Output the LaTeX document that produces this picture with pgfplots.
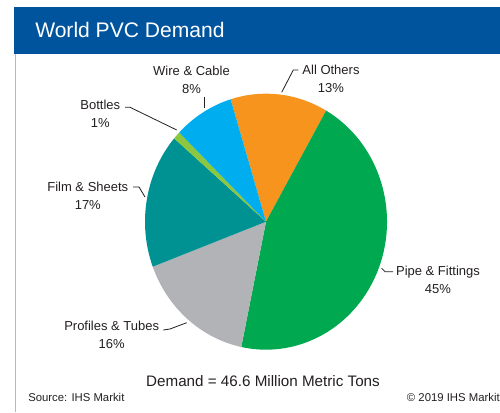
\documentclass[border=0pt]{standalone}
\usepackage{fontspec}
\setmainfont{Liberation Sans}
\usepackage{pgfplots}
\usepackage{pgfplotstable}
\pgfplotsset{compat=1.18}

\definecolor{hdrblue}{RGB}{0,84,158}
\definecolor{slice0}{RGB}{247,148,30}  % All Others
\definecolor{slice1}{RGB}{0,169,79}    % Pipe & Fittings
\definecolor{slice2}{RGB}{177,179,182} % Profiles & Tubes
\definecolor{slice3}{RGB}{0,146,147}   % Film & Sheets
\definecolor{slice4}{RGB}{141,198,63}  % Bottles
\definecolor{slice5}{RGB}{0,174,239}   % Wire & Cable
\definecolor{txt}{RGB}{35,31,32}

\pgfplotstableread{
pct
13
45
16
17
1
8
}\piedata

% slice angles, clockwise from 107 deg
\xdef\pieang{107}
\pgfplotstableforeachcolumnelement{pct}\of\piedata\as\p{%
  \pgfmathsetmacro\pieend{\pieang-3.6*\p}%
  \expandafter\xdef\csname pieS\pgfplotstablerow\endcsname{\pieang}%
  \expandafter\xdef\csname pieE\pgfplotstablerow\endcsname{\pieend}%
  \xdef\pieang{\pieend}%
}

\newcommand\lbl{\fontsize{9.75}{13.5}\selectfont}

\begin{document}
\begin{tikzpicture}
\begin{axis}[x=0.75pt,y=0.75pt,xmin=0,xmax=500,ymin=0,ymax=412,
  hide axis,clip=false]
  \path (axis cs:0,0) rectangle (axis cs:500,412);
  \fill[hdrblue] (axis cs:14,358) rectangle (axis cs:500,404.7);
  \draw[black!28,line width=1.1pt] (axis cs:15.5,358) -- (axis cs:15.5,0);
  \node[anchor=base west,text=white,inner sep=0,
    font=\fontsize{15.8}{18}\selectfont] at (axis cs:35,374.7) {World PVC Demand};

  \pgfplotsinvokeforeach{0,...,5}{%
    \edef\temp{\noexpand\fill[slice#1] (axis cs:266,190.3)
      -- +(\csname pieS#1\endcsname:90.75pt and 96pt)
      arc[start angle=\csname pieS#1\endcsname,end angle=\csname pieE#1\endcsname,
          x radius=90.75pt,y radius=96pt] -- cycle;}%
    \temp
  }

  % leader lines
  \draw[txt,line width=0.6pt] (axis cs:204.3,315.3) -- (axis cs:204.3,303.7);
  \draw[txt,line width=0.6pt] (axis cs:281.7,319.7) -- (axis cs:293.3,342) -- (axis cs:298.3,342);
  \draw[txt,line width=0.6pt] (axis cs:125,304.7) -- (axis cs:130,304.7) -- (axis cs:176.7,282);
  \draw[txt,line width=0.6pt] (axis cs:133,225) -- (axis cs:139,225) -- (axis cs:145,215);
  \draw[txt,line width=0.6pt] (axis cs:163.3,82) -- (axis cs:170,83) -- (axis cs:186.7,89.3);
  \draw[txt,line width=0.6pt] (axis cs:381.7,143.7) -- (axis cs:385,140.3) -- (axis cs:393,140.3);

  % labels
  \node[align=center,font=\lbl,text=txt] at (axis cs:191.5,332.1) {Wire \& Cable\\8\%};
  \node[align=center,font=\lbl,text=txt] at (axis cs:331,333) {All Others\\13\%};
  \node[align=center,font=\lbl,text=txt] at (axis cs:100.3,298) {Bottles\\1\%};
  \node[align=center,font=\lbl,text=txt] at (axis cs:87.8,216) {Film \& Sheets\\17\%};
  \node[align=center,font=\lbl,text=txt] at (axis cs:111.7,77) {Profiles \& Tubes\\16\%};
  \node[align=center,font=\lbl,text=txt] at (axis cs:438,132.6) {Pipe \& Fittings\\45\%};

  \node[font=\fontsize{11.4}{13}\selectfont,text=txt] at (axis cs:263,31.3) {Demand = 46.6 Million Metric Tons};
  \node[anchor=west,inner sep=0,font=\fontsize{8.5}{10}\selectfont,text=txt] at (axis cs:28,15) {Source: IHS Markit};
  \node[anchor=west,inner sep=0,overlay,font=\fontsize{8.5}{10}\selectfont,text=txt] at (axis cs:406.7,15) {\textcopyright{} 2019 IHS Markit};
\end{axis}
\end{tikzpicture}
\end{document}
